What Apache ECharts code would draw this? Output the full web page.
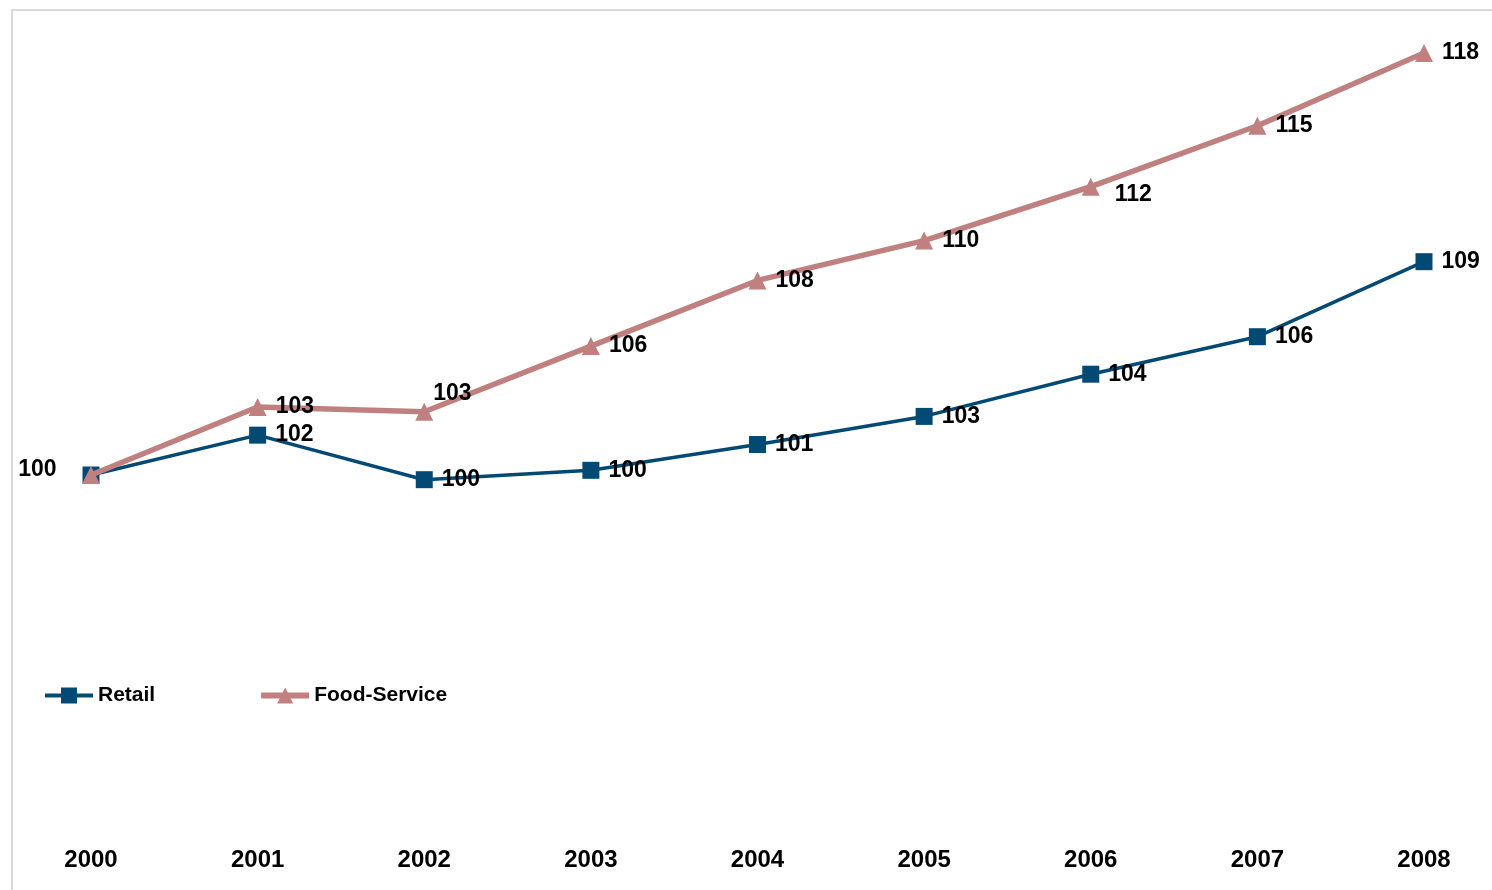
<!DOCTYPE html>
<html>
<head>
<meta charset="utf-8">
<script src="https://cdn.jsdelivr.net/npm/echarts@6/dist/echarts.min.js"></script>
<style>
  html, body { margin: 0; padding: 0; background: #fff; }
  #chart { width: 1492px; height: 890px; }
</style>
</head>
<body>
<div id="chart"></div>
<script>
// Index values, 2000 = 100
const years = ['2000', '2001', '2002', '2003', '2004', '2005', '2006', '2007', '2008'];
const retail = [100, 101.7, 99.8, 100.2, 101.3, 102.5, 104.3, 105.9, 109.1];
const foodService = [100, 102.9, 102.7, 105.5, 108.3, 110.0, 112.3, 114.9, 118.0];

const FONT = '"Liberation Sans", Arial, sans-serif';
const RETAIL_COLOR = '#024A74';
const FOOD_COLOR = '#C08080';

const labelBase = {
  show: true,
  position: 'right',
  distance: 9,
  color: '#000',
  fontFamily: FONT,
  fontWeight: 'bold',
  fontSize: 23,
  formatter: p => Math.round(p.value)
};

// per-point label tweaks
const retailData = retail.map((v, i) => {
  if (i === 0) return { value: v, label: { position: 'left', distance: 26, offset: [0, -5] } };
  return v;
});
const foodData = foodService.map((v, i) => {
  if (i === 0) return { value: v, label: { show: false } };
  if (i === 2) return { value: v, label: { offset: [-9, -18] } };
  if (i === 6) return { value: v, label: { offset: [6, 8] } };
  return v;
});

const chart = echarts.init(document.getElementById('chart'), null, { renderer: 'canvas' });
chart.setOption({
  animation: false,
  backgroundColor: '#fff',
  graphic: [{
    type: 'rect',
    shape: { x: 12, y: 10, width: 1500, height: 900 },
    style: { fill: 'none', stroke: '#d9d9d9', lineWidth: 2 },
    silent: true,
    z: -1
  }],
  grid: { left: 91, right: 68, top: 6.2, bottom: 63.4, containLabel: false },
  legend: {
    left: 38,
    top: 680,
    itemWidth: 48,
    itemHeight: 20,
    itemGap: 103,
    textStyle: { fontFamily: FONT, fontWeight: 'bold', fontSize: 21, color: '#000' },
    data: [
      { name: 'Retail', lineStyle: { width: 4 } },
      { name: 'Food-Service', lineStyle: { width: 6 } }
    ]
  },
  xAxis: {
    type: 'category',
    data: years,
    boundaryGap: false,
    axisLine: { show: false },
    axisTick: { show: false },
    axisLabel: {
      margin: 22,
      color: '#000',
      fontFamily: FONT,
      fontWeight: 'bold',
      fontSize: 24
    },
    splitLine: { show: false }
  },
  yAxis: {
    type: 'value',
    min: 85,
    max: 120,
    show: false,
    splitLine: { show: false }
  },
  series: [
    {
      name: 'Retail',
      type: 'line',
      data: retailData,
      symbol: 'rect',
      symbolSize: 17,
      lineStyle: { color: RETAIL_COLOR, width: 3.5 },
      itemStyle: { color: RETAIL_COLOR },
      label: labelBase,
      z: 2
    },
    {
      name: 'Food-Service',
      type: 'line',
      data: foodData,
      symbol: 'triangle',
      symbolSize: 18,
      lineStyle: { color: FOOD_COLOR, width: 5.5 },
      itemStyle: { color: FOOD_COLOR },
      label: labelBase,
      z: 3
    }
  ]
});
</script>
</body>
</html>
